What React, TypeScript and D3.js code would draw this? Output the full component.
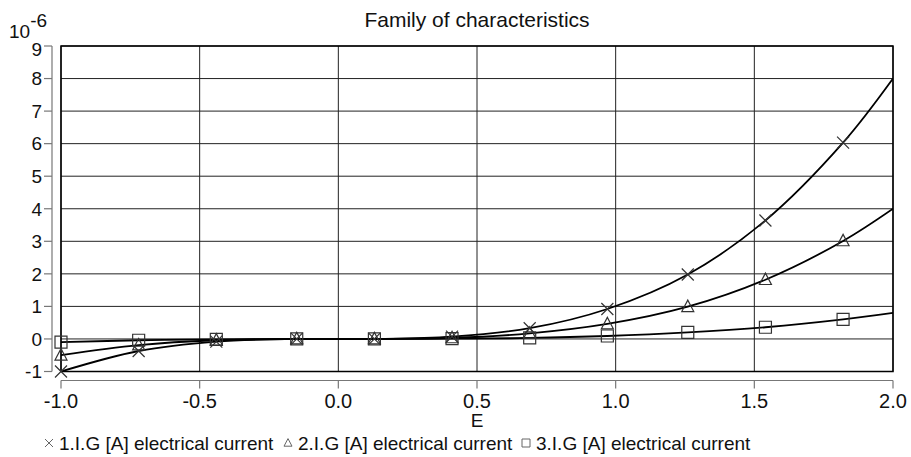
import React from 'react';
import * as d3 from 'd3';

// values (current in 10^-6 A)
const eValues = [-1.0, -0.72, -0.44, -0.15, 0.13, 0.41, 0.69, 0.97, 1.26, 1.54, 1.82, 2.0];
const current1 = [-1.0, -0.37, -0.08, 0.0, 0.0, 0.07, 0.33, 0.92, 1.98, 3.64, 6.03, 8.0];
const current2 = [-0.5, -0.19, -0.04, 0.0, 0.0, 0.03, 0.17, 0.46, 0.99, 1.82, 3.01, 4.0];
const current3 = [-0.1, -0.04, -0.01, 0.0, 0.0, 0.01, 0.03, 0.09, 0.2, 0.36, 0.6, 0.8];
// the last point (E = 2.0) is only a curve end, no marker
const markerCount = 11;

const seriesNames = [
  '1.I.G [A] electrical current',
  '2.I.G [A] electrical current',
  '3.I.G [A] electrical current',
];
const seriesMarkers = ['cross', 'triangle', 'square'];

const xTicks = [-1.0, -0.5, 0.0, 0.5, 1.0, 1.5, 2.0];
const yTicks = [-1, 0, 1, 2, 3, 4, 5, 6, 7, 8, 9];

const width = 911;
const height = 457;
const margin = { top: 46, right: 18, bottom: 85.5, left: 61 };
const font = '"Liberation Sans", Arial, Helvetica, sans-serif';

const markerPath = (kind: string, s: number) => {
  if (kind === 'cross') return `M${-s},${-s}L${s},${s}M${-s},${s}L${s},${-s}`;
  if (kind === 'triangle') return `M0,${-s * 1.1}L${s},${s * 0.8}L${-s},${s * 0.8}Z`;
  return `M${-s},${-s}H${s}V${s}H${-s}Z`;
};

export default function App() {
  const innerW = width - margin.left - margin.right;
  const innerH = height - margin.top - margin.bottom;

  const x = d3.scaleLinear().domain([-1, 2]).range([margin.left, margin.left + innerW]);
  const y = d3.scaleLinear().domain([-1, 9]).range([margin.top + innerH, margin.top]);

  const series = [current1, current2, current3];
  const line = d3.line<number>()
    .x((_, i) => x(eValues[i]))
    .y((d) => y(d))
    .curve(d3.curveCatmullRom.alpha(0.5));

  const axisX = margin.left - 9;
  const axisY = margin.top + innerH + 9;
  const legendX = [44, 283, 521];

  return (
    <svg
      width={width}
      height={height}
      style={{ position: 'absolute', left: 0, top: 0, background: '#fff' }}
      fontFamily={font}
    >
      <defs>
        <clipPath id="plotClip">
          <rect x={margin.left} y={margin.top} width={innerW} height={innerH} />
        </clipPath>
      </defs>

      {/* title */}
      <text x={477} y={27} textAnchor="middle" fontSize={21} fill="#111">
        Family of characteristics
      </text>

      {/* unit */}
      <text x={9} y={38} fontSize={19} fill="#111">
        10
        <tspan dy={-11} fontSize={19}>-6</tspan>
      </text>

      {/* grid */}
      {yTicks.map((t) => (
        <line key={`gy${t}`} x1={margin.left} x2={margin.left + innerW} y1={y(t)} y2={y(t)} stroke="#222" strokeWidth={1} />
      ))}
      {xTicks.map((t) => (
        <line key={`gx${t}`} x1={x(t)} x2={x(t)} y1={margin.top} y2={margin.top + innerH} stroke="#222" strokeWidth={1} />
      ))}

      {/* frame */}
      <rect x={margin.left} y={margin.top} width={innerW} height={innerH} fill="none" stroke="#000" strokeWidth={1.5} />

      {/* y axis */}
      <line x1={axisX} x2={axisX} y1={margin.top} y2={margin.top + innerH} stroke="#777" strokeWidth={1.2} />
      {yTicks.map((t) => (
        <g key={`ty${t}`}>
          <line x1={axisX - 8} x2={axisX} y1={y(t)} y2={y(t)} stroke="#777" strokeWidth={1.2} />
          <text x={axisX - 10} y={Math.max(y(t), margin.top + 3)} dy="0.36em" textAnchor="end" fontSize={19} fill="#111">
            {t}
          </text>
        </g>
      ))}

      {/* x axis */}
      <line x1={margin.left} x2={margin.left + innerW} y1={axisY} y2={axisY} stroke="#777" strokeWidth={1.2} />
      {xTicks.map((t) => (
        <g key={`tx${t}`}>
          <line x1={x(t)} x2={x(t)} y1={axisY} y2={axisY + 8} stroke="#777" strokeWidth={1.2} />
          <text x={x(t)} y={408} textAnchor="middle" fontSize={20} fill="#111">
            {t.toFixed(1)}
          </text>
        </g>
      ))}
      <text x={x(0.5)} y={427} textAnchor="middle" fontSize={19} fill="#111">E</text>

      {/* curves */}
      <g clipPath="url(#plotClip)">
        {series.map((s, k) => (
          <path key={`c${k}`} d={line(s) ?? ''} fill="none" stroke="#000" strokeWidth={1.8} />
        ))}
      </g>

      {/* markers */}
      {series.map((s, k) =>
        s.slice(0, markerCount).map((v, i) => (
          <path
            key={`m${k}-${i}`}
            transform={`translate(${x(eValues[i])},${y(v)})`}
            d={markerPath(seriesMarkers[k], 6)}
            fill="none"
            stroke="#333"
            strokeWidth={1.2}
          />
        ))
      )}

      {/* legend */}
      {seriesNames.map((name, k) => (
        <g key={`l${k}`}>
          <path
            transform={`translate(${legendX[k] + 5},${443})`}
            d={markerPath(seriesMarkers[k], 4)}
            fill="none"
            stroke="#666"
            strokeWidth={1}
          />
          <text x={legendX[k] + 15} y={450} fontSize={19} fill="#111">
            {name}
          </text>
        </g>
      ))}
    </svg>
  );
}
